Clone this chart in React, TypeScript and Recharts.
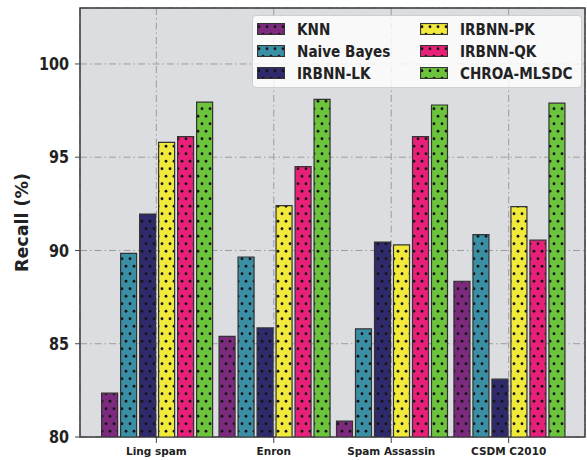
import React from 'react';
import {
  BarChart, Bar, XAxis, YAxis, CartesianGrid, Legend, ReferenceArea
} from 'recharts';

document.body.style.margin = '0';

const datasets = ['Ling spam', 'Enron', 'Spam Assassin', 'CSDM C2010'];
const methods = ['KNN', 'Naive Bayes', 'IRBNN-LK', 'IRBNN-PK', 'IRBNN-QK', 'CHROA-MLSDC'];
const colors = ['#7b2a7d', '#3a8fa5', '#2e2a6c', '#f1ea3b', '#e9207a', '#6cc33c'];

const knn = [82.35, 85.4, 80.85, 88.35];
const naiveBayes = [89.85, 89.65, 85.8, 90.85];
const irbnnLK = [91.95, 85.85, 90.45, 83.1];
const irbnnPK = [95.8, 92.4, 90.3, 92.35];
const irbnnQK = [96.1, 94.5, 96.1, 90.55];
const chroa = [97.95, 98.1, 97.8, 97.9];

const seriesValues = [knn, naiveBayes, irbnnLK, irbnnPK, irbnnQK, chroa];

const yMajorTicks = [80, 85, 90, 95, 100];
const yMinorTicks = [81, 82, 83, 84, 86, 87, 88, 89, 91, 92, 93, 94, 96, 97, 98, 99, 101, 102];
const xMinorTicks = [-0.5, -0.25, 0.25, 0.5, 0.75, 1.25, 1.5, 1.75, 2.25, 2.5, 2.75, 3.25, 3.5];

const data = datasets.map((name, i) => {
  const row: Record<string, any> = { name, idx: i };
  methods.forEach((m, j) => { row[m] = seriesValues[j][i]; });
  return row;
});

const W = 587;
const H = 460;
const PLOT_W = 505;
const PAD = 0.15; // category units
const padPx = (PAD * PLOT_W) / (datasets.length + 2 * PAD);
const FONT = '"DejaVu Sans", sans-serif';

const YTick = (props: any) => {
  const { x, y, payload } = props;
  return (
    <text x={x} y={y} textAnchor="end" dominantBaseline="central"
      transform={`translate(${x},${y}) scale(1,1.25) translate(${-x},${-y})`}
      fontFamily={FONT} fontWeight="bold" fontSize={14.4} fill="#222">
      {payload.value}
    </text>
  );
};

const XTick = (props: any) => {
  const { x, y, payload } = props;
  return (
    <text x={x} y={y + 10} textAnchor="middle"
      fontFamily={FONT} fontWeight="bold" fontSize={10.5} fill="#222">
      {payload.value}
    </text>
  );
};

const YLabel = (props: any) => {
  const { viewBox } = props;
  const cx = viewBox.x + 22;
  const cy = viewBox.y + viewBox.height / 2;
  return (
    <text x={cx} y={cy} textAnchor="middle" dominantBaseline="central"
      transform={`rotate(-90, ${cx}, ${cy})`}
      fontFamily={FONT} fontWeight="bold" fontSize={17.5} fill="#222">
      Recall (%)
    </text>
  );
};

const LegendBox = () => (
  <div style={{
    boxSizing: 'border-box', width: 330, height: 73, padding: '2px 0 0 4px',
    background: 'rgba(255,255,255,0.82)', border: '1px solid #cfcfcf', borderRadius: 4,
    display: 'grid', gridAutoFlow: 'column', gridTemplateRows: 'repeat(3, 22px)',
    gridTemplateColumns: '163px auto', fontFamily: FONT,
  }}>
    {methods.map((m, i) => (
      <div key={m} style={{ display: 'flex', alignItems: 'center' }}>
        <svg width={28} height={12} style={{ flex: 'none' }}>
          <rect x={0.5} y={0.5} width={27} height={11} fill={`url(#dots${i})`} stroke="#333" strokeWidth={1.2} />
        </svg>
        <span style={{
          marginLeft: 12, fontWeight: 'bold', fontSize: 13.6, color: '#222',
          display: 'inline-block', transform: 'scaleY(1.15)', whiteSpace: 'nowrap',
        }}>{m}</span>
      </div>
    ))}
  </div>
);

export default function App() {
  return (
    <div style={{ position: 'relative', width: W, height: H }}>
      <svg width={0} height={0} style={{ position: 'absolute' }}>
        <defs>
          {colors.map((c, i) => (
            <pattern key={c} id={`dots${i}`} patternUnits="userSpaceOnUse" width={8} height={15}>
              <rect width={8} height={15} fill={c} />
              <circle cx={2} cy={3.75} r={1.4} fill="#141414" />
              <circle cx={6} cy={11.25} r={1.4} fill="#141414" />
            </pattern>
          ))}
        </defs>
      </svg>
      <BarChart width={W} height={H} data={data}
        margin={{ top: 8, right: 2, left: 0, bottom: 0 }}
        barCategoryGap={4} barGap={3}>
        <CartesianGrid xAxisId="minor" yAxisId="minor" fill="#dcdde0"
          stroke="#b3b3b3" strokeDasharray="1.2 2" />
        <CartesianGrid xAxisId={0} yAxisId={0} fill="none"
          stroke="#9c9c9c" strokeDasharray="7 3 1.5 3" />
        <XAxis dataKey="name" xAxisId={0} height={23} padding={{ left: padPx, right: padPx }}
          axisLine={false} tickSize={6} tickLine={{ stroke: '#444' }} tick={<XTick />} interval={0} />
        <XAxis xAxisId="minor" dataKey="idx" type="number" height={0}
          domain={[-PAD - 0.5, datasets.length - 0.5 + PAD]} allowDataOverflow
          ticks={xMinorTicks} interval={0} axisLine={false} tickSize={3}
          tickLine={{ stroke: '#555' }} tick={false} />
        <YAxis yAxisId={0} width={80} domain={[80, 103]} ticks={yMajorTicks} interval={0}
          allowDataOverflow axisLine={false} tickSize={5} tickMargin={6}
          tickLine={{ stroke: '#444' }} tick={<YTick />} label={<YLabel />} />
        <YAxis yAxisId="minor" width={0} domain={[80, 103]} ticks={yMinorTicks} interval={0}
          allowDataOverflow axisLine={false} tickSize={3} tickLine={{ stroke: '#555' }} tick={false} />
        <Legend layout="horizontal" verticalAlign="middle" align="center"
          wrapperStyle={{ top: 15, left: 252, width: 330 }} content={<LegendBox />} />
        {methods.map((m, i) => (
          <Bar key={m} dataKey={m} xAxisId={0} yAxisId={0} fill={`url(#dots${i})`}
            stroke="#333" strokeWidth={1.2} isAnimationActive={false} />
        ))}
        <ReferenceArea xAxisId="minor" yAxisId={0} x1={-PAD - 0.5} x2={datasets.length - 0.5 + PAD}
          y1={80} y2={103} fill="none" stroke="#3c3c3c" strokeWidth={1.5} ifOverflow="visible" />
      </BarChart>
    </div>
  );
}
